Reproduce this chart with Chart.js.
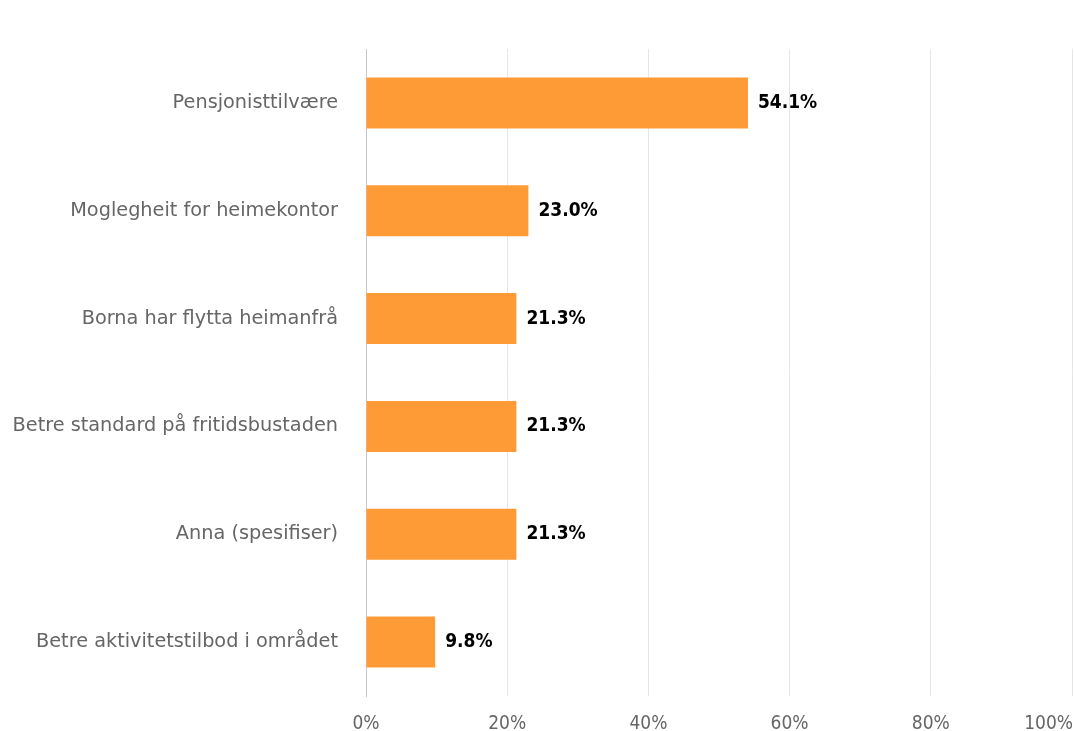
<!DOCTYPE html>
<html>
<head>
<meta charset="utf-8">
<script src="https://cdn.jsdelivr.net/npm/chart.js@4"></script>
<style>
  html, body { margin: 0; padding: 0; background: #fff; }
  #wrap { width: 1074px; height: 731px; }
</style>
</head>
<body>
<div id="wrap"><canvas id="myChart" width="1074" height="731"></canvas></div>
<script>
// data
const categories = [
	"Pensjonisttilvære",
	"Moglegheit for heimekontor",
	"Borna har flytta heimanfrå",
	"Betre standard på fritidsbustaden",
	"Anna (spesifiser)",
	"Betre aktivitetstilbod i området",
];
const percentValues = [54.1, 23.0, 21.3, 21.3, 21.3, 9.8];
const xTicks = [0, 20, 40, 60, 80, 100];

const LABEL_FONT = "'DejaVu Sans', sans-serif";
const NARROW_FONT = "'DejaVu Sans Condensed', 'DejaVu Sans', sans-serif";

// small inline plugin for the value labels at the end of each bar
const valueLabels = {
	id: "valueLabels",
	afterDatasetsDraw(chart) {
		const ctx = chart.ctx;
		const meta = chart.getDatasetMeta(0);
		ctx.save();
		ctx.font = "bold 19px " + NARROW_FONT;
		ctx.fillStyle = "#000";
		ctx.textAlign = "left";
		ctx.textBaseline = "middle";
		meta.data.forEach((bar, i) => {
			ctx.fillText(percentValues[i].toFixed(1) + "%", bar.x + 10, bar.y);
		});
		ctx.restore();
	},
};

// keep the last x tick label ("100%") inside the canvas
const keepLastTickInside = {
	id: "keepLastTickInside",
	beforeDraw(chart) {
		const items = chart.scales.x.getLabelItems();
		const last = items[items.length - 1];
		if (last) {
			last.options.textAlign = "right";
			last.options.translation[0] = chart.width - 1;
		}
	},
};

const ctx = document.getElementById("myChart").getContext("2d");

new Chart(ctx, {
	type: "bar",
	data: {
		labels: categories,
		datasets: [
			{
				data: percentValues,
				backgroundColor: "#fe9b37",
				borderWidth: 0,
				barPercentage: 0.473,
				categoryPercentage: 1,
			},
		],
	},
	options: {
		indexAxis: "y",
		responsive: false,
		animation: false,
		layout: { padding: { top: 49, left: 0, right: 2, bottom: 0 } },
		plugins: {
			legend: { display: false },
			tooltip: { enabled: false },
		},
		scales: {
			x: {
				min: 0,
				max: 100,
				afterBuildTicks: (axis) => {
					axis.ticks = xTicks.map((v) => ({ value: v }));
				},
				afterFit: (axis) => {
					axis.height = 35;
					axis.paddingRight = 0;
					axis.paddingLeft = 0;
				},
				grid: { color: "#e6e6e6", drawTicks: false },
				border: { display: false },
				ticks: {
					padding: 17,
					color: "#666",
					font: { family: NARROW_FONT, size: 19 },
					callback: (v) => v + "%",
				},
			},
			y: {
				afterFit: (axis) => {
					axis.width = 366;
					axis.paddingTop = 0;
					axis.paddingBottom = 0;
				},
				grid: { display: false, drawTicks: false },
				border: { display: true, color: "#c8c8c8", width: 1 },
				ticks: {
					padding: 28,
					color: "#666",
					font: { family: LABEL_FONT, size: 19.3 },
				},
			},
		},
	},
	plugins: [valueLabels, keepLastTickInside],
});
</script>
</body>
</html>
